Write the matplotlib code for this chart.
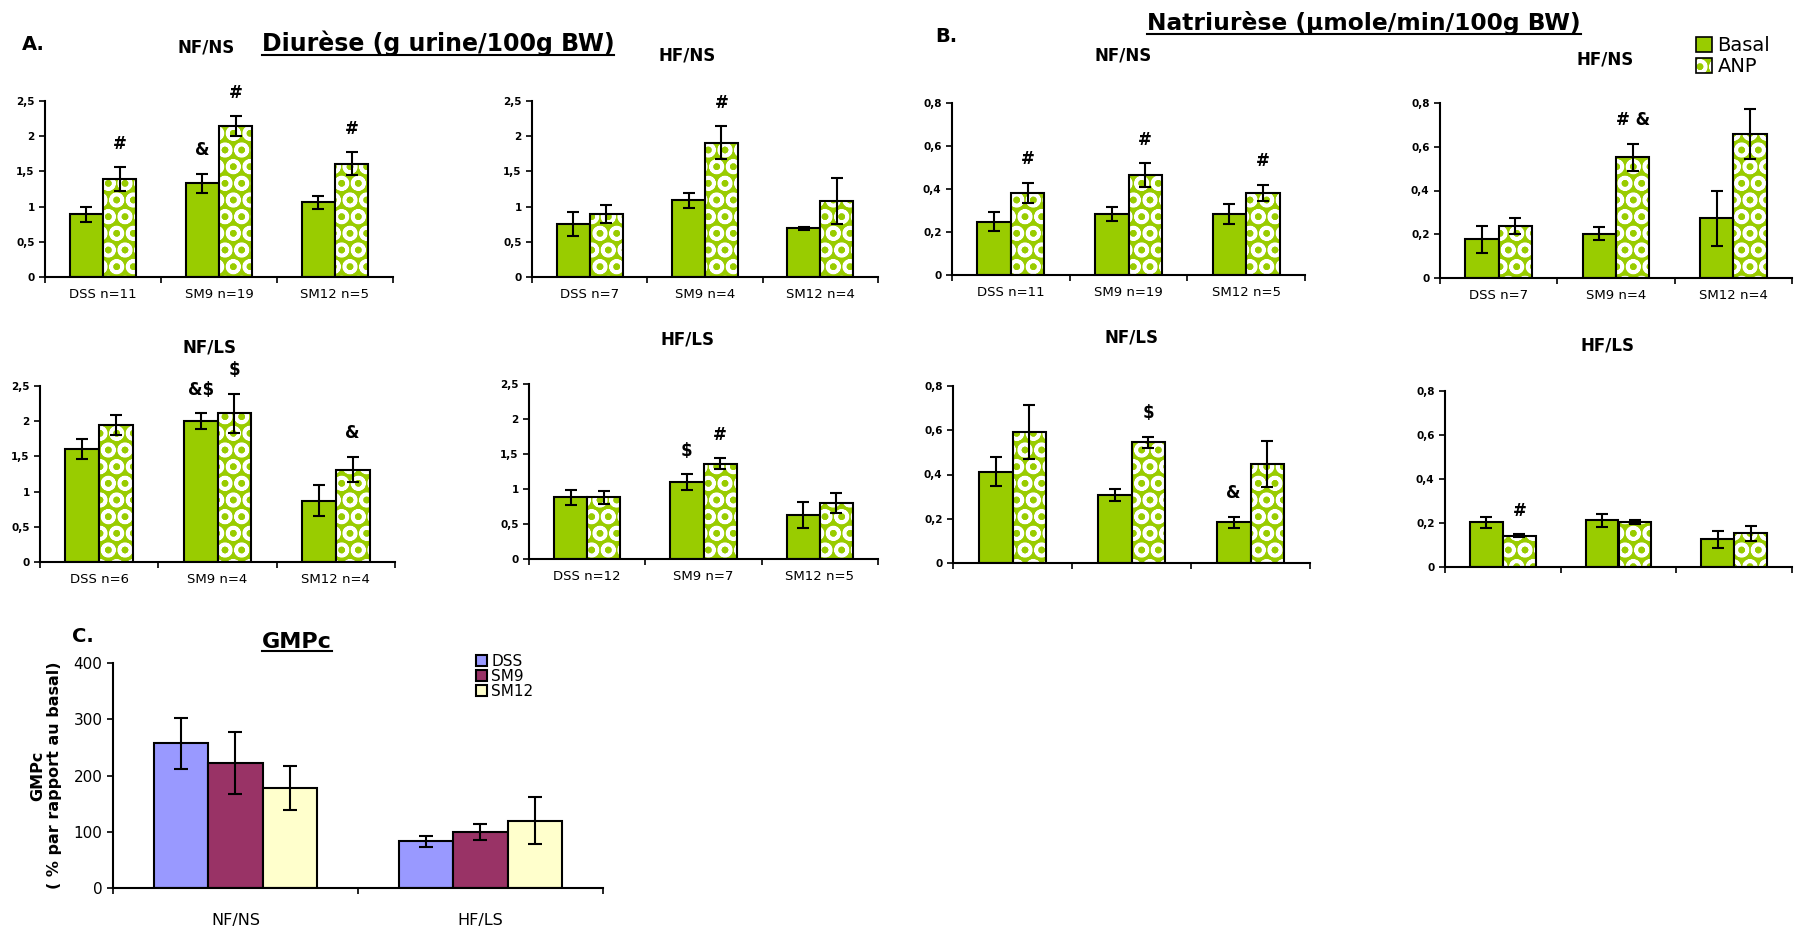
import numpy as np
import matplotlib.pyplot as plt
from matplotlib.patches import Patch
from matplotlib.lines import Line2D
from matplotlib.legend_handler import HandlerTuple

GREEN = "#99CC00"
W_PX, H_PX = 1800, 934

# Diurese (g urine/100g BW) -- basal vs ANP, mean and SEM
diu_nfns_labels = ["DSS n=11", "SM9 n=19", "SM12 n=5"]
diu_nfns_basal = [0.89, 1.33, 1.06]
diu_nfns_basal_err = [0.11, 0.14, 0.09]
diu_nfns_anp = [1.39, 2.14, 1.61]
diu_nfns_anp_err = [0.17, 0.14, 0.16]
diu_nfns_marks = [(0, 1, "#"), (1, 0, "&"), (1, 1, "#"), (2, 1, "#")]

diu_hfns_labels = ["DSS n=7", "SM9 n=4", "SM12 n=4"]
diu_hfns_basal = [0.75, 1.09, 0.69]
diu_hfns_basal_err = [0.17, 0.11, 0.02]
diu_hfns_anp = [0.89, 1.91, 1.08]
diu_hfns_anp_err = [0.13, 0.23, 0.33]
diu_hfns_marks = [(1, 1, "#")]

diu_nfls_labels = ["DSS n=6", "SM9 n=4", "SM12 n=4"]
diu_nfls_basal = [1.61, 2.00, 0.87]
diu_nfls_basal_err = [0.14, 0.11, 0.22]
diu_nfls_anp = [1.95, 2.11, 1.31]
diu_nfls_anp_err = [0.14, 0.28, 0.18]
diu_nfls_marks = [(1, 0, "&$"), (1, 1, "$"), (2, 1, "&")]

diu_hfls_labels = ["DSS n=12", "SM9 n=7", "SM12 n=5"]
diu_hfls_basal = [0.88, 1.10, 0.63]
diu_hfls_basal_err = [0.11, 0.11, 0.19]
diu_hfls_anp = [0.88, 1.36, 0.80]
diu_hfls_anp_err = [0.09, 0.08, 0.14]
diu_hfls_marks = [(1, 0, "$"), (1, 1, "#")]

# Natriurese (umole/min/100g BW)
nat_nfns_labels = ["DSS n=11", "SM9 n=19", "SM12 n=5"]
nat_nfns_basal = [0.248, 0.284, 0.284]
nat_nfns_basal_err = [0.045, 0.034, 0.045]
nat_nfns_anp = [0.383, 0.465, 0.383]
nat_nfns_anp_err = [0.047, 0.055, 0.037]
nat_nfns_marks = [(0, 1, "#"), (1, 1, "#"), (2, 1, "#")]

nat_hfns_labels = ["DSS n=7", "SM9 n=4", "SM12 n=4"]
nat_hfns_basal = [0.177, 0.203, 0.273]
nat_hfns_basal_err = [0.062, 0.029, 0.127]
nat_hfns_anp = [0.238, 0.552, 0.657]
nat_hfns_anp_err = [0.035, 0.061, 0.115]
nat_hfns_marks = [(1, 1, "# &")]

nat_nfls_basal = [0.413, 0.308, 0.184]
nat_nfls_basal_err = [0.065, 0.027, 0.026]
nat_nfls_anp = [0.590, 0.546, 0.449]
nat_nfls_anp_err = [0.122, 0.025, 0.104]
nat_nfls_marks = [(1, 1, "$"), (2, 0, "&")]

nat_hfls_basal = [0.203, 0.212, 0.126]
nat_hfls_basal_err = [0.026, 0.029, 0.038]
nat_hfls_anp = [0.142, 0.205, 0.153]
nat_hfls_anp_err = [0.006, 0.008, 0.033]
nat_hfls_marks = [(0, 1, "#")]

# GMPc (% par rapport au basal)
gmpc_conditions = ["NF/NS", "HF/LS"]
gmpc_strains = ["DSS", "SM9", "SM12"]
gmpc_colors = ["#9999FF", "#993366", "#FFFFCC"]
gmpc_dss = [257, 83]
gmpc_dss_err = [45, 10]
gmpc_sm9 = [223, 99]
gmpc_sm9_err = [55, 14]
gmpc_sm12 = [178, 120]
gmpc_sm12_err = [39, 41]

plt.rcParams["hatch.linewidth"] = 2.5
plt.rcParams["font.family"] = "DejaVu Sans"

fig = plt.figure(figsize=(18, 9.34), dpi=100)


def rect(x0, y0, x1, y1):
    # pixel box (top-left origin) -> figure fraction
    return [x0 / W_PX, 1 - y1 / H_PX, (x1 - x0) / W_PX, (y1 - y0) / H_PX]


def fxy(x, y):
    return x / W_PX, 1 - y / H_PX


def style_axes(ax, ncat):
    for s in ["top", "right"]:
        ax.spines[s].set_visible(False)
    for s in ["left", "bottom"]:
        ax.spines[s].set_linewidth(1.5)
    ax.set_xlim(0, ncat)
    ax.set_xticks(np.arange(ncat + 1))
    ax.set_xticklabels([])
    ax.tick_params(axis="x", which="major", direction="out", length=4, width=1.2)
    ax.tick_params(axis="y", direction="out", length=4, width=1.2)


def pair_panel(box, title, title_xy, labels, basal, basal_err, anp, anp_err,
               marks, ymax, ystep):
    ax = fig.add_axes(rect(*box))
    n = len(basal)
    x = np.arange(n) + 0.5
    w = 0.285
    xb, xa = x - w / 2, x + w / 2
    ax.bar(xb, basal, w, color=GREEN, edgecolor="black", linewidth=1.5, zorder=2)
    ax.bar(xa, anp, w, color=GREEN, hatch="O", edgecolor="white", linewidth=0, zorder=2)
    ax.bar(xa, anp, w, fill=False, edgecolor="black", linewidth=1.5, zorder=3)
    ax.errorbar(xb, basal, yerr=basal_err, fmt="none", ecolor="black",
                elinewidth=1.5, capsize=4, capthick=1.5, zorder=4)
    ax.errorbar(xa, anp, yerr=anp_err, fmt="none", ecolor="black",
                elinewidth=1.5, capsize=4, capthick=1.5, zorder=4)
    style_axes(ax, n)
    ax.set_ylim(0, ymax)
    ticks = np.arange(0, ymax + ystep / 2, ystep)
    ax.set_yticks(ticks)
    ax.set_yticklabels([f"{t:g}".replace(".", ",") for t in ticks],
                       fontsize=7.5, fontweight="bold")
    if labels:
        ax.set_xticks(x, minor=True)
        ax.set_xticklabels(labels, minor=True, fontsize=9.5)
        ax.tick_params(axis="x", which="minor", length=0, pad=8)
    tops = [np.array(basal) + np.array(basal_err), np.array(anp) + np.array(anp_err)]
    xs = [xb, xa]
    for g, s, txt in marks:
        ax.annotate(txt, (xs[s][g], tops[s][g]), xytext=(0, 17),
                    textcoords="offset points", ha="center", va="center",
                    fontsize=12, fontweight="bold", annotation_clip=False)
    fig.text(*fxy(*title_xy), title, ha="center", va="center",
             fontsize=12, fontweight="bold")
    return ax


pair_panel((45, 101, 393, 277), "NF/NS", (206, 48), diu_nfns_labels,
           diu_nfns_basal, diu_nfns_basal_err, diu_nfns_anp, diu_nfns_anp_err,
           diu_nfns_marks, 2.5, 0.5)
pair_panel((532, 101, 878, 277), "HF/NS", (687, 55), diu_hfns_labels,
           diu_hfns_basal, diu_hfns_basal_err, diu_hfns_anp, diu_hfns_anp_err,
           diu_hfns_marks, 2.5, 0.5)
pair_panel((40, 386, 395, 562), "NF/LS", (210, 348), diu_nfls_labels,
           diu_nfls_basal, diu_nfls_basal_err, diu_nfls_anp, diu_nfls_anp_err,
           diu_nfls_marks, 2.5, 0.5)
pair_panel((529, 384, 878, 559), "HF/LS", (688, 340), diu_hfls_labels,
           diu_hfls_basal, diu_hfls_basal_err, diu_hfls_anp, diu_hfls_anp_err,
           diu_hfls_marks, 2.5, 0.5)

pair_panel((952, 103, 1305, 275), "NF/NS", (1123, 55), nat_nfns_labels,
           nat_nfns_basal, nat_nfns_basal_err, nat_nfns_anp, nat_nfns_anp_err,
           nat_nfns_marks, 0.8, 0.2)
pair_panel((1440, 103, 1792, 278), "HF/NS", (1605, 59), nat_hfns_labels,
           nat_hfns_basal, nat_hfns_basal_err, nat_hfns_anp, nat_hfns_anp_err,
           nat_hfns_marks, 0.8, 0.2)
pair_panel((953, 386, 1310, 563), "NF/LS", (1132, 337), None,
           nat_nfls_basal, nat_nfls_basal_err, nat_nfls_anp, nat_nfls_anp_err,
           nat_nfls_marks, 0.8, 0.2)
pair_panel((1445, 391, 1792, 567), "HF/LS", (1607, 345), None,
           nat_hfls_basal, nat_hfls_basal_err, nat_hfls_anp, nat_hfls_anp_err,
           nat_hfls_marks, 0.8, 0.2)

# Basal / ANP legend
h_basal = Patch(facecolor=GREEN, edgecolor="black", linewidth=1.2)
h_anp = (Patch(facecolor=GREEN, hatch="O", edgecolor="white", linewidth=0),
         Patch(fill=False, edgecolor="black", linewidth=1.2))
fig.legend([h_basal, h_anp], ["Basal", "ANP"], loc="upper left",
           bbox_to_anchor=fxy(1696, 36), frameon=False, fontsize=14,
           handlelength=0.8, handleheight=0.8, handletextpad=0.3,
           labelspacing=0.1, borderpad=0, borderaxespad=0,
           handler_map={tuple: HandlerTuple(ndivide=1)})

# GMPc panel
axc = fig.add_axes(rect(113, 663, 603, 888))
xc = np.arange(len(gmpc_conditions)) + 0.5
wc = 0.222
series = [(gmpc_dss, gmpc_dss_err), (gmpc_sm9, gmpc_sm9_err), (gmpc_sm12, gmpc_sm12_err)]
for i, (vals, errs) in enumerate(series):
    pos = xc + (i - 1) * wc
    axc.bar(pos, vals, wc, color=gmpc_colors[i], edgecolor="black",
            linewidth=1.5, label=gmpc_strains[i], zorder=2)
    axc.errorbar(pos, vals, yerr=errs, fmt="none", ecolor="black",
                 elinewidth=1.5, capsize=5, capthick=1.5, zorder=3)
style_axes(axc, len(gmpc_conditions))
axc.set_ylim(0, 400)
axc.set_yticks([0, 100, 200, 300, 400])
axc.tick_params(axis="y", labelsize=11)
axc.set_xticks(xc, minor=True)
axc.set_xticklabels(gmpc_conditions, minor=True, fontsize=11.5)
axc.tick_params(axis="x", which="minor", length=0, pad=18)
axc.set_ylabel("GMPc\n( % par rapport au basal)", fontsize=11.5,
               fontweight="bold", labelpad=8)
fig.legend(loc="upper left", bbox_to_anchor=fxy(476, 654), frameon=False,
           fontsize=11, handlelength=0.7, handleheight=0.7, handletextpad=0.3,
           labelspacing=0.0, borderpad=0, borderaxespad=0)

# panel letters and underlined headings
fig.text(*fxy(22, 45), "A.", fontsize=14, fontweight="bold", va="center")
fig.text(*fxy(935, 37), "B.", fontsize=14, fontweight="bold", va="center")
fig.text(*fxy(72, 637), "C.", fontsize=14, fontweight="bold", va="center")

heads = [
    fig.text(*fxy(438, 43), "Diurèse (g urine/100g BW)", ha="center",
             va="center", fontsize=17, fontweight="bold"),
    fig.text(*fxy(1364, 23), "Natriurèse (µmole/min/100g BW)", ha="center",
             va="center", fontsize=16.8, fontweight="bold"),
    fig.text(*fxy(297, 642), "GMPc", ha="center", va="center",
             fontsize=16, fontweight="bold"),
]
fig.canvas.draw()
renderer = fig.canvas.get_renderer()
for t in heads:
    bb = t.get_window_extent(renderer)
    yline = (bb.y0 + 1) / fig.bbox.height
    fig.add_artist(Line2D([bb.x0 / fig.bbox.width, bb.x1 / fig.bbox.width],
                          [yline, yline], color="black", linewidth=1.5))

fig.savefig("out.png", dpi=100)
